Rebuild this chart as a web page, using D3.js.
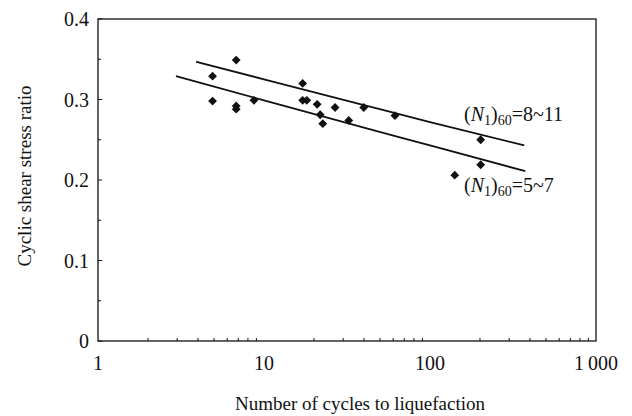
<!DOCTYPE html>
<html><head><meta charset="utf-8">
<script src="https://cdn.jsdelivr.net/npm/d3@7"></script>
<style>body{margin:0;background:#fff}svg{display:block}text{font-family:"Liberation Serif","DejaVu Serif",serif;fill:#111}</style>
</head><body><svg id="c" width="632" height="416"></svg>
<script>
const cycles = [4.9,4.9,6.8,6.8,6.8,8.7,17.1,17.1,18.1,20.9,21.8,22.6,26.8,32.4,39.9,61.5,202,202,141];
const csr    = [0.329,0.298,0.349,0.292,0.288,0.299,0.320,0.299,0.299,0.294,0.281,0.270,0.290,0.274,0.290,0.280,0.250,0.219,0.206];
const upperN = [3.9,10,40,100,370];
const upperR = [0.347,0.325,0.293,0.272,0.243];
const lowerN = [2.95,10,40,100,375];
const lowerR = [0.329,0.299,0.265,0.243,0.211];
const xTicks = [1,10,100,1000];
const xTickLabels = ["1","10","100","1\u2009000"];
const yTicks = [0,0.1,0.2,0.3,0.4];
const yTickLabels = ["0","0.1","0.2","0.3","0.4"];

const svg = d3.select("#c");
const L=98,R=596,T=19,B=341;
const x = d3.scaleLog().domain([1,1000]).range([L,R]);
const y = d3.scaleLinear().domain([0,0.4]).range([B,T]);

// frame
svg.append("rect").attr("x",L).attr("y",T).attr("width",R-L).attr("height",B-T)
  .attr("fill","none").attr("stroke","#111").attr("stroke-width",1.3);

// x ticks (inside)
const minorX=[];
for(let d=1;d<1000;d*=10) for(let k=2;k<=9;k++) minorX.push(d*k);
svg.append("g").selectAll("line").data(minorX).join("line")
  .attr("x1",d=>x(d)).attr("x2",d=>x(d)).attr("y1",B).attr("y2",B-3)
  .attr("stroke","#111").attr("stroke-width",1);
svg.append("g").selectAll("text").data(xTicks).join("text")
  .attr("x",d=>x(d)).attr("y",370).attr("text-anchor","middle")
  .attr("font-size",20).text((d,i)=>xTickLabels[i]);

// y ticks
const yMinor=d3.range(0.05,0.4,0.1);
svg.append("g").selectAll("line").data(yTicks).join("line")
  .attr("x1",L).attr("x2",L+4).attr("y1",d=>y(d)).attr("y2",d=>y(d))
  .attr("stroke","#111").attr("stroke-width",1);
svg.append("g").selectAll("line").data(yMinor).join("line")
  .attr("x1",L).attr("x2",L+3).attr("y1",d=>y(d)).attr("y2",d=>y(d))
  .attr("stroke","#111").attr("stroke-width",1);
svg.append("g").selectAll("text").data(yTicks).join("text")
  .attr("x",89).attr("y",d=>y(d)+7).attr("text-anchor","end")
  .attr("font-size",20).text((d,i)=>yTickLabels[i]);

// axis titles
svg.append("text").attr("x",360).attr("y",410).attr("text-anchor","middle")
  .attr("font-size",19).text("Number of cycles to liquefaction");
svg.append("text").attr("transform","translate(31,176) rotate(-90)").attr("text-anchor","middle")
  .attr("font-size",19).text("Cyclic shear stress ratio");

// lines
const line = d3.line().x(d=>x(d[0])).y(d=>y(d[1])).curve(d3.curveMonotoneX);
svg.append("path").attr("d",line(upperN.map((n,i)=>[n,upperR[i]])))
  .attr("fill","none").attr("stroke","#111").attr("stroke-width",1.8);
svg.append("path").attr("d",line(lowerN.map((n,i)=>[n,lowerR[i]])))
  .attr("fill","none").attr("stroke","#111").attr("stroke-width",1.8);

// points
svg.append("g").selectAll("path").data(cycles).join("path")
  .attr("transform",(d,i)=>`translate(${x(d)},${y(csr[i])})`)
  .attr("d",d3.symbol().type(d3.symbolDiamond2).size(50))
  .attr("fill","#111");

// labels
function lab(xp,yp,lo,hi){
  const t=svg.append("text").attr("x",xp).attr("y",yp).attr("font-size",20);
  t.append("tspan").text("(");
  t.append("tspan").attr("font-style","italic").text("N");
  t.append("tspan").attr("font-size",14).attr("dy",4).text("1");
  t.append("tspan").attr("dy",-4).text(")");
  t.append("tspan").attr("font-size",14).attr("dy",4).text("60");
  t.append("tspan").attr("dy",-4).text("="+lo+"~"+hi);
}
lab(464,121,"8","11");
lab(464,192,"5","7");
</script></body></html>
